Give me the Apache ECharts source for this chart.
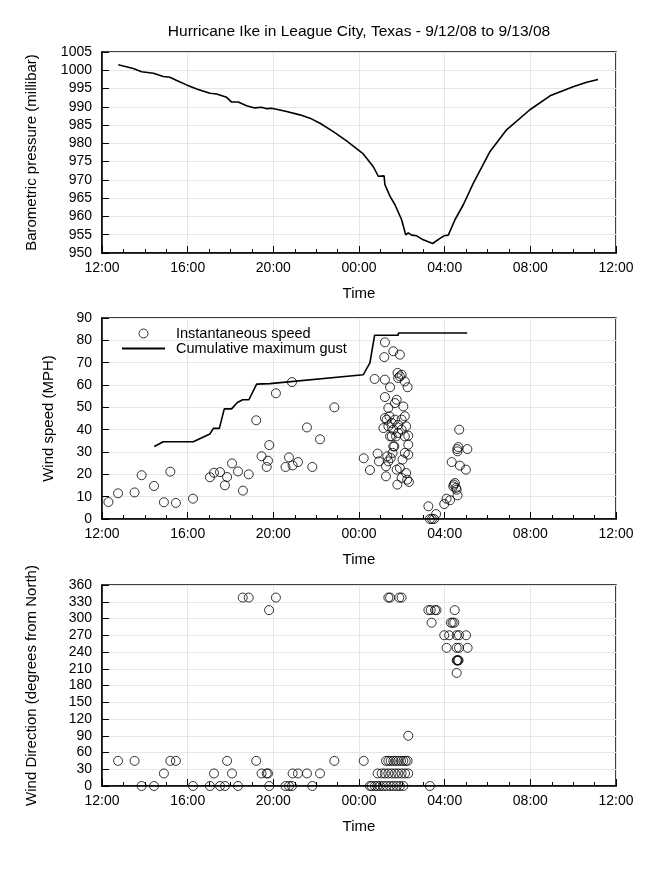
<!DOCTYPE html>
<html><head><meta charset="utf-8">
<script src="https://cdn.jsdelivr.net/npm/echarts@6/dist/echarts.min.js"></script>
<style>html,body{margin:0;padding:0;background:#fff}#c{width:667px;height:889px}</style>
</head><body><div id="c"></div>
<script>
// Times are hours elapsed since 12:00 on 9/12/08
const titleText = 'Hurricane Ike in League City, Texas - 9/12/08 to 9/13/08';
const timeTicks = ['12:00','16:00','20:00','00:00','04:00','08:00','12:00'];

const pressureHours = [0.76,1.46,1.85,2.40,2.86,3.17,3.49,3.95,4.42,5.04,5.35,5.82,6.05,6.36,6.75,7.14,7.45,7.69,7.92,8.62,9.24,9.71,10.18,10.80,11.42,12.20,12.67,12.90,13.17,13.21,13.45,13.68,13.99,14.18,14.30,14.46,14.69,15.00,15.44,15.78,15.97,16.17,16.48,16.87,17.34,18.12,18.89,19.98,20.92,22.00,22.63,23.16];
const pressureValues = [1001.5,1000.5,999.6,999.2,998.3,998.1,997.2,996.0,994.9,993.7,993.5,992.6,991.3,991.3,990.3,989.7,989.9,989.5,989.6,988.7,987.8,986.9,985.5,983.2,980.7,977.1,973.6,971.0,971.1,968.7,965.5,963.2,959.1,955.0,955.5,954.9,954.7,953.6,952.6,954.0,954.7,954.9,959.1,963.2,969.1,977.8,983.7,989.2,993.0,995.5,996.7,997.5];

const gustHours = [2.44,2.86,4.26,5.04,5.20,5.48,5.71,6.05,6.32,6.57,6.86,7.22,7.84,12.20,12.51,12.73,13.83,13.84,17.05];
const gustValues = [32.5,34.6,34.6,38.1,40.6,40.6,49.3,49.3,52.2,53.4,53.4,60.4,60.6,64.6,69.9,82.3,82.3,83.3,83.3];

const speedHours = [0.30,0.75,1.52,1.85,2.43,2.89,3.19,3.45,4.25,5.04,5.23,5.51,5.74,5.84,6.07,6.35,6.58,6.85,7.20,7.45,7.69,7.75,7.81,8.12,8.57,8.73,8.87,8.90,9.15,9.57,9.82,10.18,10.85,12.22,12.51,12.73,12.87,12.93,
  13.21,13.18,13.21,13.21,13.26,13.26,13.32,13.37,13.45,13.42,13.48,13.60,13.65,13.68,13.60,13.73,13.76,13.79,13.80,13.83,13.91,13.91,13.99,14.03,14.07,14.14,14.14,14.14,14.20,14.20,14.25,14.27,14.30,14.30,14.30,14.33,
  13.45,13.29,13.37,13.53,13.68,13.83,13.99,13.53,13.83,13.99,13.14,13.21,13.60,13.37,13.91,14.14,13.57,13.76,13.99,
  15.24,15.60,15.31,15.41,15.50,15.98,16.09,16.25,16.33,16.40,16.43,16.48,16.53,16.56,16.59,16.60,16.64,16.60,16.68,16.71,16.99,17.06];
const speedValues = [7.6,11.5,11.9,19.6,14.8,7.5,21.2,7.2,9.1,18.7,20.7,21.0,15.1,18.8,24.9,21.3,12.7,20.0,44.2,28.1,23.3,26.1,33.1,56.3,23.3,27.6,61.3,24.0,25.5,41.0,23.3,35.7,50.0,27.2,21.9,62.7,29.3,25.8,
  79.1,72.5,54.6,62.4,23.6,19.1,28.1,49.7,59.0,46.0,27.3,75.1,32.5,51.9,40.0,37.0,53.4,15.4,65.4,63.1,73.6,63.9,64.6,26.6,50.4,61.6,46.0,37.0,20.6,41.5,17.6,59.0,28.8,33.3,37.3,16.6,
  37.0,44.5,41.5,43.0,44.5,42.2,40.0,37.0,38.5,44.5,40.7,45.2,32.5,25.8,22.8,29.6,29.6,22.1,18.4,
  5.7,2.2,0,0,0,6.7,9.1,8.4,25.5,14.6,15.4,16.1,13.9,13.1,31.3,30.3,32.2,10.6,40.0,23.9,22.1,31.3];

const dirHours = [0.75,1.52,3.19,3.45,5.84,7.20,10.85,12.22,
  2.89,5.23,6.07,7.45,7.69,7.75,8.90,9.15,9.57,10.18,12.87,
  1.85,2.43,4.25,5.04,5.51,5.74,6.35,7.81,8.57,8.73,8.87,9.82,12.51,12.74,
  6.57,6.85,8.12,7.80,
  13.37,13.45,13.88,13.99,
  15.24,15.35,15.55,15.62,16.47,
  15.39,16.29,16.37,16.45,
  15.98,16.21,16.56,16.67,17.00,
  16.09,16.56,16.67,17.07,
  16.56,16.59,16.62,16.65,
  16.56,
  14.30,
  13.26,13.37,13.48,13.60,13.72,13.83,13.96,14.07,14.18,14.27,
  13.06,13.21,13.37,13.52,13.68,13.83,13.99,14.15,14.30,
  12.59,12.85,12.98,13.13,13.29,13.45,13.60,13.76,13.91,14.07,15.31];
const dirValues = [45,45,45,45,45,45,45,45,
  22.5,22.5,22.5,22.5,22.5,22.5,22.5,22.5,22.5,22.5,22.5,
  0,0,0,0,0,0,0,0,0,0,0,0,0,0,
  337.5,337.5,337.5,315,
  337.5,337.5,337.5,337.5,
  315,315,315,315,315,
  292.5,292.5,292.5,292.5,
  270,270,270,270,270,
  247.5,247.5,247.5,247.5,
  225,225,225,225,
  202.5,
  90,
  45,45,45,45,45,45,45,45,45,45,
  22.5,22.5,22.5,22.5,22.5,22.5,22.5,22.5,22.5,
  0,0,0,0,0,0,0,0,0,0,0];

const zip = (a, b) => a.map((v, i) => [v, b[i]]);
const FONT = 'Liberation Sans';
const tops = [52, 318, 585];
const H = 201;

const grids = tops.map(t => ({
  left: 102, right: 51, top: t, height: H,
  show: true, borderColor: '#000', borderWidth: 1.5, backgroundColor: 'transparent'
}));

const xAxes = tops.map((t, i) => ({
  type: 'value', gridIndex: i, min: 0, max: 24, interval: 4,
  name: 'Time', nameLocation: 'middle', nameGap: 33,
  nameTextStyle: { fontFamily: FONT, fontSize: 15, color: '#000' },
  axisLine: { lineStyle: { color: '#000', width: 1.5 } },
  axisTick: { inside: true, length: 7, lineStyle: { color: '#000', width: 1 } },
  minorTick: { show: true, splitNumber: 4, length: 4, lineStyle: { color: '#000', width: 1 } },
  axisLabel: { fontFamily: FONT, fontSize: 14, color: '#000', margin: 8,
    formatter: v => timeTicks[Math.round(v / 4)] },
  splitLine: { show: true, lineStyle: { color: '#e6e6e6', width: 1 } }
}));

const yDefs = [
  { min: 950, max: 1005, interval: 5, name: 'Barometric pressure (millibar)', gap: 63 },
  { min: 0, max: 90, interval: 10, name: 'Wind speed (MPH)', gap: 46 },
  { min: 0, max: 360, interval: 30, name: 'Wind Direction (degrees from North)', gap: 63 }
];
const yAxes = yDefs.map((d, i) => ({
  type: 'value', gridIndex: i, min: d.min, max: d.max, interval: d.interval,
  name: d.name, nameLocation: 'middle', nameGap: d.gap,
  nameTextStyle: { fontFamily: FONT, fontSize: 15, color: '#000' },
  axisLine: { show: true, lineStyle: { color: '#000', width: 1.5 } },
  axisTick: { show: true, inside: true, length: 7, lineStyle: { color: '#000', width: 1 } },
  axisLabel: { fontFamily: FONT, fontSize: 14, color: '#000', margin: 10, formatter: v => String(v) },
  splitLine: { show: true, lineStyle: { color: '#e6e6e6', width: 1 } }
}));

const circleStyle = { color: 'transparent', borderColor: '#000', borderWidth: 1 };

const chart = echarts.init(document.getElementById('c'), null, { renderer: 'canvas' });
chart.setOption({
  animation: false,
  backgroundColor: '#fff',
  graphic: [{
    type: 'text', x: 359, y: 32,
    style: { text: titleText, fontFamily: FONT, fontSize: 15.5, fill: '#000',
      align: 'center', verticalAlign: 'middle' }
  }],
  legend: {
    data: [
      { name: 'Instantaneous speed', icon: 'circle', itemStyle: circleStyle },
      { name: 'Cumulative maximum gust', itemStyle: { color: 'transparent', borderColor: 'transparent', borderWidth: 0 } }
    ],
    orient: 'vertical', left: 121, top: 326, padding: 0,
    itemWidth: 43, itemHeight: 9, itemGap: 0,
    textStyle: { fontFamily: FONT, fontSize: 14.5, color: '#000', lineHeight: 14, padding: [0, 0, 0, 6] }
  },
  grid: grids,
  xAxis: xAxes,
  yAxis: yAxes,
  series: [
    { type: 'line', name: 'Barometric pressure', xAxisIndex: 0, yAxisIndex: 0,
      data: zip(pressureHours, pressureValues), symbol: 'none',
      lineStyle: { color: '#000', width: 1.6 } },
    { type: 'scatter', name: 'Instantaneous speed', xAxisIndex: 1, yAxisIndex: 1,
      data: zip(speedHours, speedValues), symbol: 'circle', symbolSize: 9, itemStyle: circleStyle },
    { type: 'line', name: 'Cumulative maximum gust', xAxisIndex: 1, yAxisIndex: 1,
      data: zip(gustHours, gustValues), symbol: 'none',
      lineStyle: { color: '#000', width: 1.6 }, itemStyle: { color: '#000' } },
    { type: 'scatter', name: 'Wind direction', xAxisIndex: 2, yAxisIndex: 2,
      data: zip(dirHours, dirValues), symbol: 'circle', symbolSize: 9, itemStyle: circleStyle }
  ]
});
</script>
</body></html>
